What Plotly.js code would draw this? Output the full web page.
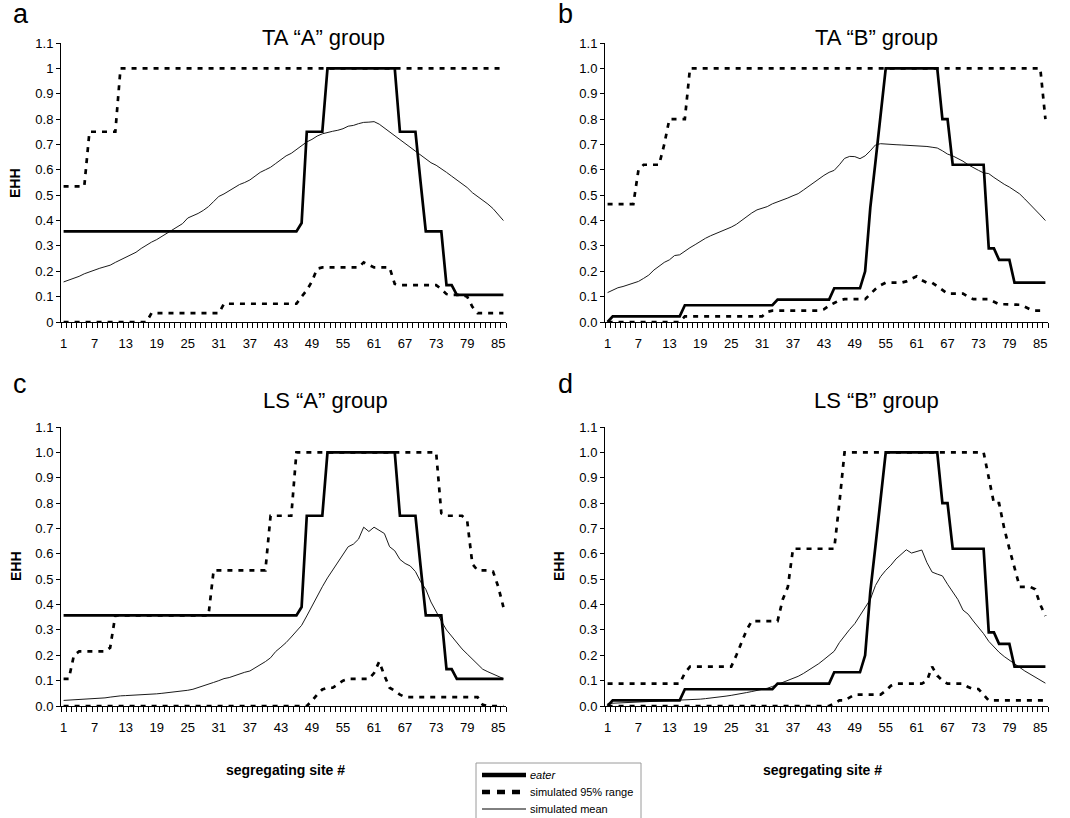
<!DOCTYPE html>
<html>
<head>
<meta charset="utf-8">
<script src="https://cdn.plot.ly/plotly-3.0.1.min.js"></script>
<style>
html,body{margin:0;padding:0;background:#fff;overflow:hidden;}
#chart{width:1070px;height:818px;}
</style>
</head>
<body>
<div id="chart"></div>
<script>
// ---------- data ----------
const sites = [1,2,3,4,5,6,7,8,9,10,11,12,13,14,15,16,17,18,19,20,21,22,23,24,25,26,27,28,29,30,
31,32,33,34,35,36,37,38,39,40,41,42,43,44,45,46,47,48,49,50,51,52,53,54,55,56,57,58,59,60,
61,62,63,64,65,66,67,68,69,70,71,72,73,74,75,76,77,78,79,80,81,82,83,84,85,86];

const xTickVals = [1,7,13,19,25,31,37,43,49,55,61,67,73,79,85];
const xTickText = ["1","7","13","19","25","31","37","43","49","55","61","67","73","79","85"];
const yTickVals = [0,0.1,0.2,0.3,0.4,0.5,0.6,0.7,0.8,0.9,1.0,1.1];
const yTickTextPlain = ["0","0.1","0.2","0.3","0.4","0.5","0.6","0.7","0.8","0.9","1","1.1"];
const yTickTextFixed = ["0.0","0.1","0.2","0.3","0.4","0.5","0.6","0.7","0.8","0.9","1.0","1.1"];

const panelTitles = ["TA \u201cA\u201d group","TA \u201cB\u201d group","LS \u201cA\u201d group","LS \u201cB\u201d group"];
const panelLetters = ["a","b","c","d"];
const seriesNames = ["eater","simulated 95% range","simulated mean"];

// eater haplotype EHH, "A" group (panels a, c)
const eaterA = [
0.357,0.357,0.357,0.357,0.357,0.357,0.357,0.357,0.357,0.357,
0.357,0.357,0.357,0.357,0.357,0.357,0.357,0.357,0.357,0.357,
0.357,0.357,0.357,0.357,0.357,0.357,0.357,0.357,0.357,0.357,
0.357,0.357,0.357,0.357,0.357,0.357,0.357,0.357,0.357,0.357,
0.357,0.357,0.357,0.357,0.357,0.357,0.39,0.75,0.75,0.75,
0.75,1,1,1,1,1,1,1,1,1,
1,1,1,1,1,0.75,0.75,0.75,0.75,0.55,
0.357,0.357,0.357,0.357,0.145,0.145,0.107,0.107,0.107,0.107,
0.107,0.107,0.107,0.107,0.107,0.107];

// eater haplotype EHH, "B" group (panels b, d)
const eaterB = [
0,0.022,0.022,0.022,0.022,0.022,0.022,0.022,0.022,0.022,
0.022,0.022,0.022,0.022,0.022,0.066,0.066,0.066,0.066,0.066,
0.066,0.066,0.066,0.066,0.066,0.066,0.066,0.066,0.066,0.066,
0.066,0.066,0.066,0.088,0.088,0.088,0.088,0.088,0.088,0.088,
0.088,0.088,0.088,0.088,0.133,0.133,0.133,0.133,0.133,0.133,
0.2,0.45,0.63,0.82,1,1,1,1,1,1,
1,1,1,1,1,0.8,0.8,0.62,0.62,0.62,
0.62,0.62,0.62,0.62,0.29,0.29,0.245,0.245,0.245,0.155,
0.155,0.155,0.155,0.155,0.155,0.155];

// panel a: TA "A"
const upperTA_A = [
0.535,0.535,0.535,0.535,0.535,0.75,0.75,0.75,0.75,0.75,
0.75,1,1,1,1,1,1,1,1,1,
1,1,1,1,1,1,1,1,1,1,
1,1,1,1,1,1,1,1,1,1,
1,1,1,1,1,1,1,1,1,1,
1,1,1,1,1,1,1,1,1,1,
1,1,1,1,1,1,1,1,1,1,
1,1,1,1,1,1,1,1,1,1,
1,1,1,1,1,1];
const lowerTA_A = [
0,0,0,0,0,0,0,0,0,0,
0,0,0,0,0,0,0,0.035,0.035,0.035,
0.035,0.035,0.035,0.035,0.035,0.035,0.035,0.035,0.035,0.035,
0.035,0.072,0.072,0.072,0.072,0.072,0.072,0.072,0.072,0.072,
0.072,0.072,0.072,0.072,0.072,0.072,0.1,0.125,0.16,0.21,
0.215,0.215,0.215,0.215,0.215,0.215,0.215,0.215,0.235,0.225,
0.215,0.215,0.215,0.215,0.15,0.145,0.145,0.145,0.145,0.145,
0.145,0.145,0.145,0.13,0.11,0.107,0.107,0.107,0.1,0.06,
0.035,0.035,0.035,0.035,0.035,0.035];
const meanTA_A = [
0.158,0.165,0.172,0.18,0.19,0.198,0.205,0.212,0.218,0.224,
0.235,0.245,0.255,0.265,0.275,0.29,0.303,0.315,0.325,0.338,
0.35,0.362,0.375,0.388,0.41,0.418,0.428,0.44,0.455,0.475,
0.495,0.505,0.518,0.53,0.542,0.55,0.56,0.575,0.59,0.6,
0.61,0.625,0.64,0.655,0.665,0.68,0.695,0.71,0.72,0.733,
0.742,0.748,0.752,0.756,0.762,0.772,0.775,0.782,0.787,0.788,
0.79,0.78,0.765,0.75,0.735,0.72,0.705,0.69,0.672,0.66,
0.645,0.628,0.618,0.605,0.59,0.575,0.56,0.545,0.53,0.51,
0.495,0.482,0.465,0.447,0.425,0.4];

// panel b: TA "B"
const upperTA_B = [
0.465,0.465,0.465,0.465,0.465,0.465,0.6,0.62,0.62,0.62,
0.62,0.7,0.8,0.8,0.8,0.8,1,1,1,1,
1,1,1,1,1,1,1,1,1,1,
1,1,1,1,1,1,1,1,1,1,
1,1,1,1,1,1,1,1,1,1,
1,1,1,1,1,1,1,1,1,1,
1,1,1,1,1,1,1,1,1,1,
1,1,1,1,1,1,1,1,1,1,
1,1,1,1,1,0.8];
const lowerTA_B = [
0,0,0,0,0,0,0,0,0,0,
0,0,0,0,0,0.022,0.022,0.022,0.022,0.022,
0.022,0.022,0.022,0.022,0.022,0.022,0.022,0.022,0.022,0.022,
0.022,0.04,0.045,0.045,0.045,0.045,0.045,0.045,0.045,0.045,
0.045,0.045,0.05,0.065,0.075,0.085,0.09,0.09,0.09,0.09,
0.09,0.11,0.13,0.145,0.155,0.155,0.155,0.155,0.16,0.17,
0.18,0.165,0.155,0.155,0.14,0.125,0.112,0.112,0.112,0.112,
0.1,0.09,0.09,0.09,0.09,0.08,0.07,0.07,0.07,0.068,
0.068,0.06,0.05,0.045,0.045,0.045];
const meanTA_B = [
0.116,0.127,0.135,0.14,0.146,0.151,0.16,0.172,0.185,0.205,
0.22,0.235,0.245,0.262,0.265,0.28,0.293,0.305,0.318,0.33,
0.34,0.348,0.357,0.365,0.374,0.385,0.4,0.416,0.43,0.442,
0.448,0.455,0.466,0.473,0.48,0.489,0.498,0.506,0.52,0.535,
0.55,0.563,0.578,0.59,0.598,0.62,0.645,0.653,0.652,0.644,
0.655,0.675,0.698,0.703,0.701,0.7,0.699,0.698,0.697,0.696,
0.697,0.695,0.692,0.689,0.686,0.675,0.662,0.655,0.645,0.634,
0.62,0.608,0.598,0.588,0.585,0.57,0.555,0.543,0.532,0.52,
0.505,0.485,0.465,0.445,0.422,0.4];

// panel c: LS "A"
const upperLS_A = [
0.107,0.107,0.2,0.215,0.215,0.215,0.215,0.215,0.215,0.23,
0.357,0.357,0.357,0.357,0.357,0.357,0.357,0.357,0.357,0.357,
0.357,0.357,0.357,0.357,0.357,0.357,0.357,0.357,0.357,0.535,
0.535,0.535,0.535,0.535,0.535,0.535,0.535,0.535,0.535,0.535,
0.75,0.75,0.75,0.75,0.75,1,1,1,1,1,
1,1,1,1,1,1,1,1,1,1,
1,1,1,1,1,1,1,1,1,1,
1,1,1,0.76,0.75,0.75,0.75,0.75,0.73,0.56,
0.535,0.535,0.535,0.53,0.47,0.39];
const lowerLS_A = [
0,0,0,0,0,0,0,0,0,0,
0,0,0,0,0,0,0,0,0,0,
0,0,0,0,0,0,0,0,0,0,
0,0,0,0,0,0,0,0,0,0,
0,0,0,0,0,0,0,0,0.02,0.045,
0.065,0.072,0.072,0.085,0.1,0.107,0.107,0.107,0.107,0.107,
0.13,0.175,0.12,0.072,0.06,0.045,0.035,0.035,0.035,0.035,
0.035,0.035,0.035,0.035,0.035,0.035,0.035,0.035,0.035,0.035,
0.035,0.005,0,0,0,0];
const meanLS_A = [
0.022,0.023,0.025,0.026,0.026,0.027,0.028,0.03,0.032,0.035,
0.038,0.04,0.041,0.042,0.042,0.043,0.044,0.046,0.048,0.05,
0.052,0.054,0.056,0.059,0.062,0.066,0.072,0.078,0.085,0.093,
0.1,0.108,0.112,0.12,0.127,0.133,0.138,0.15,0.165,0.175,
0.19,0.215,0.232,0.25,0.272,0.295,0.318,0.355,0.395,0.435,
0.47,0.505,0.535,0.565,0.595,0.628,0.638,0.658,0.705,0.688,
0.705,0.692,0.68,0.628,0.612,0.578,0.562,0.552,0.53,0.49,
0.46,0.41,0.37,0.335,0.3,0.275,0.25,0.225,0.205,0.185,
0.165,0.145,0.135,0.127,0.118,0.108];

// panel d: LS "B"
const upperLS_B = [
0.088,0.088,0.088,0.088,0.088,0.088,0.088,0.088,0.088,0.088,
0.088,0.088,0.088,0.088,0.088,0.13,0.155,0.155,0.155,0.155,
0.155,0.155,0.155,0.155,0.155,0.2,0.25,0.3,0.335,0.335,
0.335,0.335,0.335,0.335,0.42,0.47,0.62,0.62,0.62,0.62,
0.62,0.62,0.62,0.62,0.62,0.8,1,1,1,1,
1,1,1,1,1,1,1,1,1,1,
1,1,1,1,1,1,1,1,1,1,
1,1,1,1,0.9,0.8,0.8,0.7,0.62,0.55,
0.47,0.47,0.47,0.46,0.4,0.355];
const lowerLS_B = [
0,0,0,0,0,0,0,0,0,0,
0,0,0,0,0,0,0,0,0,0,
0,0,0,0,0,0,0,0,0,0,
0,0,0,0,0,0,0,0,0,0,
0,0,0,0,0.01,0.022,0.022,0.035,0.045,0.045,
0.045,0.045,0.045,0.045,0.06,0.08,0.088,0.088,0.088,0.088,
0.088,0.088,0.1,0.155,0.12,0.1,0.088,0.088,0.088,0.088,
0.075,0.067,0.067,0.045,0.022,0.022,0.022,0.022,0.022,0.022,
0.022,0.022,0.022,0.022,0.022,0.022];
const meanLS_B = [
0.01,0.011,0.011,0.012,0.013,0.013,0.014,0.015,0.015,0.016,
0.017,0.018,0.019,0.02,0.021,0.022,0.024,0.025,0.027,0.029,
0.031,0.033,0.036,0.039,0.042,0.045,0.049,0.053,0.057,0.061,
0.065,0.07,0.077,0.085,0.093,0.1,0.108,0.117,0.128,0.14,
0.152,0.167,0.183,0.2,0.216,0.25,0.278,0.302,0.325,0.355,
0.39,0.42,0.475,0.51,0.535,0.555,0.58,0.6,0.616,0.603,
0.61,0.615,0.565,0.528,0.52,0.513,0.48,0.452,0.42,0.378,
0.362,0.335,0.31,0.285,0.255,0.232,0.212,0.195,0.18,0.167,
0.152,0.138,0.126,0.114,0.102,0.09];

// ---------- build ----------
const FONT = "Liberation Sans, Arial, Helvetica, sans-serif";
const W = 1070, H = 818;
const px = v => v / W;
const py = v => 1 - v / H;

const panels = [
  {ax: "", eater: eaterA, upper: upperTA_A, lower: lowerTA_A, mean: meanTA_A},
  {ax: "2", eater: eaterB, upper: upperTA_B, lower: lowerTA_B, mean: meanTA_B},
  {ax: "3", eater: eaterA, upper: upperLS_A, lower: lowerLS_A, mean: meanLS_A},
  {ax: "4", eater: eaterB, upper: upperLS_B, lower: lowerLS_B, mean: meanLS_B}
];

const meanLine = {color: "#1a1a1a", width: 1};
const rangeLine = {color: "#000", width: 2.7, dash: "5px,6px"};
const eaterLine = {color: "#000", width: 2.7};

const traces = [];
panels.forEach((p) => {
  const xa = "x" + p.ax, ya = "y" + p.ax;
  traces.push({x: sites, y: p.mean, xaxis: xa, yaxis: ya, mode: "lines", line: meanLine,
    name: seriesNames[2], showlegend: false, hoverinfo: "skip"});
  traces.push({x: sites, y: p.upper, xaxis: xa, yaxis: ya, mode: "lines", line: rangeLine,
    name: seriesNames[1], showlegend: false, hoverinfo: "skip"});
  traces.push({x: sites, y: p.lower, xaxis: xa, yaxis: ya, mode: "lines", line: rangeLine,
    name: seriesNames[1], showlegend: false, hoverinfo: "skip"});
  traces.push({x: sites, y: p.eater, xaxis: xa, yaxis: ya, mode: "lines", line: eaterLine,
    name: seriesNames[0], showlegend: false, hoverinfo: "skip"});
});

function xAxis(domPx) {
  return {
    domain: [px(domPx[0]), px(domPx[1])],
    range: [0.5, 86.5], fixedrange: true,
    showgrid: false, zeroline: false,
    showline: true, linecolor: "#000", linewidth: 1,
    tickmode: "array", tickvals: xTickVals, ticktext: xTickText,
    ticks: "outside", ticklen: 9, tickcolor: "rgba(0,0,0,0)",
    minor: {tickmode: "linear", tick0: 0.5, dtick: 1, ticks: "outside", ticklen: 5,
            tickwidth: 1, tickcolor: "#000", showgrid: false},
    tickfont: {family: FONT, size: 13, color: "#000"}
  };
}
function yAxis(domPx, text) {
  return {
    domain: [py(domPx[1]), py(domPx[0])],
    range: [0, 1.1], fixedrange: true,
    showgrid: false, zeroline: false,
    showline: true, linecolor: "#000", linewidth: 1,
    tickmode: "array", tickvals: yTickVals, ticktext: text,
    ticks: "outside", ticklen: 4, tickwidth: 1, tickcolor: "#000",
    tickfont: {family: FONT, size: 13, color: "#000"}
  };
}

const leftX = [61, 506], rightX = [605, 1048];
const topY = [43, 322], botY = [427, 706];

function ann(text, x, y, size, opts) {
  return Object.assign({text: text, xref: "paper", yref: "paper", x: px(x), y: py(y),
    showarrow: false, font: {family: FONT, size: size, color: "#000"},
    xanchor: "center", yanchor: "middle"}, opts || {});
}

// legend (drawn as a key box below the panels)
const legRows = [775, 792, 809];
const legX0 = 482, legX1 = 526, legTextX = 528;

const annotations = [
  ann(panelLetters[0], 11, 14, 27, {xanchor: "left"}),
  ann(panelLetters[1], 556, 14, 27, {xanchor: "left"}),
  ann(panelLetters[2], 11, 384, 27, {xanchor: "left"}),
  ann(panelLetters[3], 556, 384, 27, {xanchor: "left"}),
  ann(panelTitles[0], 323, 37, 22),
  ann(panelTitles[1], 876, 37, 22),
  ann(panelTitles[2], 325, 400, 22),
  ann(panelTitles[3], 876, 400, 22),
  ann("<b>EHH</b>", 15, 183, 14, {textangle: -90}),
  ann("<b>EHH</b>", 16, 566, 14, {textangle: -90}),
  ann("<b>EHH</b>", 559, 566, 14, {textangle: -90}),
  ann("<b>segregating site #</b>", 285, 770, 14),
  ann("<b>segregating site #</b>", 822, 770, 14),
  ann("<i>" + seriesNames[0] + "</i>", legTextX, legRows[0], 11, {xanchor: "left"}),
  ann(seriesNames[1], legTextX, legRows[1], 11, {xanchor: "left"}),
  ann(seriesNames[2], legTextX, legRows[2], 11, {xanchor: "left"})
];

const shapes = [
  {type: "rect", xref: "paper", yref: "paper", x0: px(476), x1: px(641), y0: py(763), y1: py(835),
   line: {color: "#9a9a9a", width: 1}, fillcolor: "#fff", layer: "below"},
  {type: "line", xref: "paper", yref: "paper", x0: px(legX0), x1: px(legX1), y0: py(legRows[0]), y1: py(legRows[0]),
   line: {color: "#000", width: 4.5}},
  {type: "line", xref: "paper", yref: "paper", x0: px(legX0), x1: px(legX1), y0: py(legRows[1]), y1: py(legRows[1]),
   line: {color: "#000", width: 4.5, dash: "8px,7px"}},
  {type: "line", xref: "paper", yref: "paper", x0: px(legX0), x1: px(legX1), y0: py(legRows[2]), y1: py(legRows[2]),
   line: {color: "#000", width: 1}}
];

const layout = {
  width: W, height: H,
  margin: {l: 0, r: 0, t: 0, b: 0},
  paper_bgcolor: "#fff", plot_bgcolor: "#fff",
  font: {family: FONT, color: "#000"},
  xaxis: Object.assign(xAxis(leftX), {anchor: "y"}),
  yaxis: Object.assign(yAxis(topY, yTickTextPlain), {anchor: "x"}),
  xaxis2: Object.assign(xAxis(rightX), {anchor: "y2"}),
  yaxis2: Object.assign(yAxis(topY, yTickTextFixed), {anchor: "x2"}),
  xaxis3: Object.assign(xAxis(leftX), {anchor: "y3"}),
  yaxis3: Object.assign(yAxis(botY, yTickTextFixed), {anchor: "x3"}),
  xaxis4: Object.assign(xAxis(rightX), {anchor: "y4"}),
  yaxis4: Object.assign(yAxis(botY, yTickTextFixed), {anchor: "x4"}),
  showlegend: false,
  annotations: annotations,
  shapes: shapes
};

Plotly.newPlot("chart", traces, layout, {staticPlot: true, displayModeBar: false});
</script>
</body>
</html>
